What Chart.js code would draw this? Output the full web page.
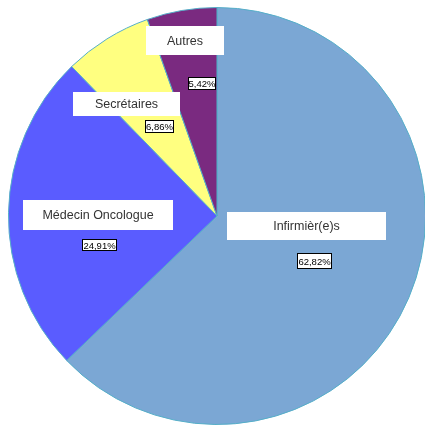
<!DOCTYPE html>
<html>
<head>
<meta charset="utf-8">
<script src="https://cdn.jsdelivr.net/npm/chart.js@4.4.0/dist/chart.umd.min.js"></script>
<style>
  body { margin: 0; background: #fff; overflow: hidden; }
  #wrap { position: absolute; left: 8px; top: 7px; width: 418px; height: 418px; }
</style>
</head>
<body>
<div id="wrap"><canvas id="myChart"></canvas></div>
<script>
// slice data
var categories = ["Infirmièr(e)s", "Médecin Oncologue", "Secrétaires", "Autres"];
var shares = [62.82, 24.91, 6.86, 5.42];
var shareLabels = ["62,82%", "24,91%", "6,86%", "5,42%"];

var sliceColors = ['#7ba7d4', '#5a5cff', '#ffff80', '#7a2a80'];

// label boxes, offsets from the pie centre: [x, y, w, h] for name and for percent
var nameBoxes = [[10, -4, 159, 28], [-194, -16, 150, 30], [-144, -124, 107, 24], [-71, -190, 78, 29]];
var pctBoxes = [[80, 37, 35, 16], [-135, 23, 35, 12], [-72, -96, 29, 13], [-29, -139, 28, 13]];

var boxLabels = {
    id: 'boxLabels',
    afterDatasetsDraw: function(chart) {
        var ctx = chart.ctx;
        var arc = chart.getDatasetMeta(0).data[0];
        var cx = arc.x, cy = arc.y;
        ctx.save();
        ctx.textAlign = 'center';
        ctx.textBaseline = 'middle';
        for (var i = 0; i < categories.length; i++) {
            var b = nameBoxes[i];
            ctx.fillStyle = '#fff';
            ctx.fillRect(cx + b[0], cy + b[1], b[2], b[3]);
            ctx.fillStyle = '#333';
            ctx.font = '12.5px "Liberation Sans", Arial, sans-serif';
            ctx.fillText(categories[i], cx + b[0] + b[2] / 2, cy + b[1] + b[3] / 2 + 1);

            var p = pctBoxes[i];
            ctx.fillStyle = '#fff';
            ctx.fillRect(cx + p[0], cy + p[1], p[2], p[3]);
            ctx.strokeStyle = '#000';
            ctx.lineWidth = 1;
            ctx.strokeRect(cx + p[0] + 0.5, cy + p[1] + 0.5, p[2] - 1, p[3] - 1);
            ctx.fillStyle = '#000';
            ctx.font = '9.5px "Liberation Sans", Arial, sans-serif';
            ctx.fillText(shareLabels[i], cx + p[0] + p[2] / 2, cy + p[1] + p[3] / 2 + 1);
        }
        ctx.restore();
    }
};

var chart = new Chart(document.getElementById('myChart'), {
    type: 'pie',
    data: {
        labels: categories,
        datasets: [{
            data: shares,
            backgroundColor: sliceColors,
            borderColor: '#55aec8',
            borderWidth: 1
        }]
    },
    options: {
        responsive: true,
        maintainAspectRatio: false,
        animation: false,
        plugins: {
            legend: { display: false },
            tooltip: { enabled: false }
        }
    },
    plugins: [boxLabels]
});
</script>
</body>
</html>
